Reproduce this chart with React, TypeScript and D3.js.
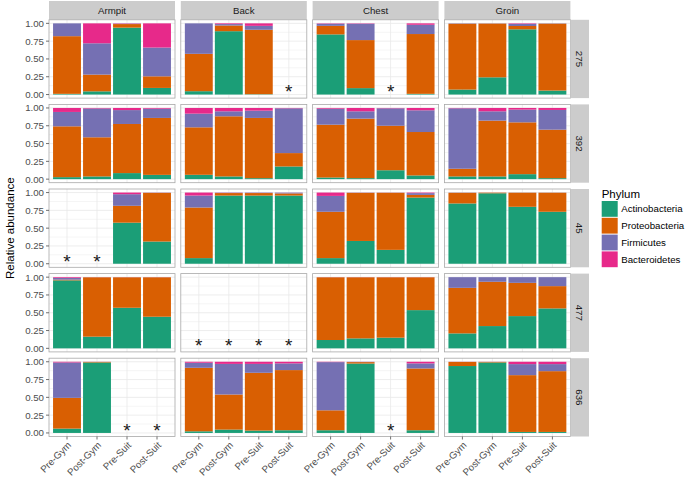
import React from "react";
import * as d3 from "d3";

const sites = ["Armpit", "Back", "Chest", "Groin"];
const subjects = ["275", "392", "45", "477", "636"];
const samples = ["Pre-Gym", "Post-Gym", "Pre-Suit", "Post-Suit"];
const phyla = ["Actinobacteria", "Proteobacteria", "Firmicutes", "Bacteroidetes"];
const phylumColors = ["#1B9E77", "#D95F02", "#7570B3", "#E7298A"];
const yTicks = [0, 0.25, 0.5, 0.75, 1];
const yTickLabels = ["0.00", "0.25", "0.50", "0.75", "1.00"];

// rows = subjects; 16 values per row = 4 sites x 4 samples; null = missing sample
const actinobacteria = [
  [0.01, 0.045, 0.94, 0.093, 0.047, 0.89, 0.005, null, 0.845, 0.09, null, 0.01, 0.07, 0.242, 0.916, 0.056],
  [0.028, 0.038, 0.085, 0.06, 0.061, 0.038, 0.014, 0.178, 0.023, 0.014, 0.125, 0.052, 0.038, 0.038, 0.07, 0.014],
  [null, null, 0.577, 0.312, 0.079, 0.958, 0.958, 0.958, 0.079, 0.32, 0.195, 0.93, 0.847, 0.99, 0.8, 0.73],
  [0.955, 0.164, 0.57, 0.444, null, null, null, null, 0.117, 0.14, 0.15, 0.537, 0.21, 0.313, 0.453, 0.561],
  [0.061, 0.99, null, null, 0.023, 0.047, 0.033, 0.038, 0.038, 0.975, null, 0.038, 0.94, 0.99, 0.014, 0.014],
];
const proteobacteria = [
  [0.81, 0.235, 0.05, 0.163, 0.525, 0.08, 0.905, null, 0.12, 0.675, null, 0.84, 0.925, 0.755, 0.047, 0.94],
  [0.714, 0.55, 0.69, 0.8, 0.667, 0.845, 0.846, 0.188, 0.742, 0.836, 0.625, 0.61, 0.108, 0.784, 0.728, 0.681],
  [null, null, 0.237, 0.684, 0.711, 0.035, 0.035, 0.03, 0.651, 0.676, 0.802, 0.037, 0.15, 0.009, 0.198, 0.268],
  [0.01, 0.834, 0.428, 0.554, null, null, null, null, 0.881, 0.858, 0.848, 0.461, 0.64, 0.622, 0.467, 0.313],
  [0.432, 0.008, null, null, 0.892, 0.493, 0.812, 0.845, 0.28, 0.02, null, 0.868, 0.058, 0.008, 0.798, 0.854],
];
const firmicutes = [
  [0.18, 0.44, 0.005, 0.404, 0.428, 0.02, 0.055, null, 0.03, 0.23, null, 0.13, 0.005, 0.003, 0.03, 0.004],
  [0.202, 0.405, 0.195, 0.13, 0.192, 0.07, 0.102, 0.629, 0.225, 0.103, 0.245, 0.305, 0.849, 0.131, 0.179, 0.277],
  [null, null, 0.163, 0.003, 0.168, 0.005, 0.006, 0.011, 0.223, 0.003, 0.002, 0.025, 0.003, 0.001, 0.002, 0.002],
  [0.025, 0.001, 0.001, 0.001, null, null, null, null, 0.001, 0.001, 0.001, 0.001, 0.15, 0.065, 0.08, 0.126],
  [0.497, 0.001, null, null, 0.071, 0.43, 0.125, 0.094, 0.677, 0.004, null, 0.071, 0.001, 0.001, 0.155, 0.099],
];
const bacteroidetes = [
  [0, 0.28, 0.005, 0.34, 0, 0.01, 0.035, null, 0.005, 0.005, null, 0.02, 0, 0, 0.007, 0],
  [0.056, 0.007, 0.03, 0.01, 0.08, 0.047, 0.038, 0.005, 0.01, 0.047, 0.005, 0.033, 0.005, 0.047, 0.023, 0.028],
  [null, null, 0.023, 0.001, 0.042, 0.002, 0.001, 0.001, 0.047, 0.001, 0.001, 0.008, 0, 0, 0, 0],
  [0.01, 0.001, 0.001, 0.001, null, null, null, null, 0.001, 0.001, 0.001, 0.001, 0, 0, 0, 0],
  [0.01, 0.001, null, null, 0.014, 0.03, 0.03, 0.023, 0.005, 0.001, null, 0.023, 0.001, 0.001, 0.033, 0.033],
];
const series = [actinobacteria, proteobacteria, firmicutes, bacteroidetes];

const W = 685;
const H = 479;
const panelX0 = 49;
const panelW = 126;
const panelPitchX = 131.8;
const panelY0 = 19.8;
const panelH = 78.3;
const panelPitchY = 84.6;
const FONT = "'Liberation Sans', Arial, Helvetica, sans-serif";

export default function App() {
  const bottom = panelY0 + (subjects.length - 1) * panelPitchY + panelH;
  const stripR0 = panelX0 + 3 * panelPitchX + panelW;

  const panels: React.ReactNode[] = [];
  subjects.forEach((subj, r) => {
    const top = panelY0 + r * panelPitchY;
    const y = d3.scaleLinear().domain([-0.05, 1.05]).range([top + panelH, top]);
    sites.forEach((site, c) => {
      const left = panelX0 + c * panelPitchX;
      const x = d3.scaleLinear().domain([0.4, 4.6]).range([left, left + panelW]);
      const bw = x(0.93) - x(0);
      const rows = samples.map((s, i) => {
        const o: any = { sample: s, idx: i + 1, missing: series[0][r][c * 4 + i] == null };
        phyla.forEach((p, k) => (o[p] = series[k][r][c * 4 + i] ?? 0));
        return o;
      });
      const stacked = d3.stack().keys(phyla)(rows as any);
      panels.push(
        <g key={`p-${r}-${c}`}>
          <rect x={left} y={top} width={panelW} height={panelH} fill="#fff" />
          {[0.125, 0.375, 0.625, 0.875].map((v) => (
            <line key={`mn${v}`} x1={left} x2={left + panelW} y1={y(v)} y2={y(v)} stroke="#f3f3f3" strokeWidth={0.8} />
          ))}
          {yTicks.map((v) => (
            <line key={`mj${v}`} x1={left} x2={left + panelW} y1={y(v)} y2={y(v)} stroke="#e8e8e8" strokeWidth={0.8} />
          ))}
          {samples.map((s, i) => (
            <line key={`vx${s}`} x1={x(i + 1)} x2={x(i + 1)} y1={top} y2={top + panelH} stroke="#e8e8e8" strokeWidth={0.8} />
          ))}
          {stacked.map((layer, k) => (
            <g key={`l${k}`} fill={phylumColors[k]}>
              {layer.map((d: any, i: number) =>
                rows[i].missing || d[1] - d[0] <= 0 ? null : (
                  <rect key={i} x={x(i + 1) - bw / 2} width={bw} y={y(d[1])} height={y(d[0]) - y(d[1])} />
                )
              )}
            </g>
          ))}
          {rows.map((d, i) =>
            d.missing ? (
              <text key={`a${i}`} x={x(i + 1)} y={y(0.1) + 11} textAnchor="middle" fontSize={19} fontFamily={FONT} fill="#1a1a1a">
                *
              </text>
            ) : null
          )}
          <rect x={left} y={top} width={panelW} height={panelH} fill="none" stroke="#a8a8a8" strokeWidth={0.8} />
          {c === 0 &&
            yTicks.map((v, i) => (
              <g key={`yt${v}`}>
                <line x1={left - 3} x2={left} y1={y(v)} y2={y(v)} stroke="#4d4d4d" strokeWidth={0.8} />
                <text x={left - 5} y={y(v)} dy="0.35em" textAnchor="end" fontSize={9.7} fontFamily={FONT} fill="#4d4d4d">
                  {yTickLabels[i]}
                </text>
              </g>
            ))}
          {r === subjects.length - 1 &&
            samples.map((s, i) => (
              <g key={`xt${s}`}>
                <line x1={x(i + 1)} x2={x(i + 1)} y1={bottom} y2={bottom + 3} stroke="#4d4d4d" strokeWidth={0.8} />
                <text
                  transform={`translate(${x(i + 1)},${bottom + 4.5}) rotate(-45)`}
                  dy="0.7em"
                  textAnchor="end"
                  fontSize={9.7}
                  fontFamily={FONT}
                  fill="#4d4d4d"
                >
                  {s}
                </text>
              </g>
            ))}
        </g>
      );
    });
    // right strip
    panels.push(
      <g key={`rs-${r}`}>
        <rect x={stripR0} y={top} width={18.6} height={panelH} fill="#cccccc" />
        <text
          transform={`translate(${stripR0 + 9.3},${top + panelH / 2}) rotate(90)`}
          dy="0.35em"
          textAnchor="middle"
          fontSize={9.7}
          fontFamily={FONT}
          fill="#1a1a1a"
        >
          {subj}
        </text>
      </g>
    );
  });

  const topStrips = sites.map((s, c) => {
    const left = panelX0 + c * panelPitchX;
    return (
      <g key={`ts-${s}`}>
        <rect x={left} y={1} width={panelW} height={panelY0 - 1} fill="#cccccc" />
        <text x={left + panelW / 2} y={(1 + panelY0) / 2} dy="0.35em" textAnchor="middle" fontSize={9.7} fontFamily={FONT} fill="#1a1a1a">
          {s}
        </text>
      </g>
    );
  });

  const legX = 601.7;
  const legY = 201;
  const keyPitch = 16.8;

  return (
    <svg width={W} height={H} style={{ position: "absolute", left: 0, top: 0, background: "#fff" }}>
      <rect x={0} y={0} width={W} height={H} fill="#fff" />
      {topStrips}
      {panels}
      <text
        transform={`translate(10,${(panelY0 + bottom) / 2}) rotate(-90)`}
        dy="0.35em"
        textAnchor="middle"
        fontSize={11.5}
        fontFamily={FONT}
        fill="#000"
      >
        Relative abundance
      </text>
      <text x={legX} y={193.5} dy="0.35em" fontSize={11.5} fontFamily={FONT} fill="#000">
        Phylum
      </text>
      {phyla.map((p, k) => (
        <g key={`lg${p}`}>
          <rect x={legX} y={legY + k * keyPitch} width={16} height={keyPitch - 1} fill={phylumColors[k]} />
          <text x={legX + 19.5} y={legY + k * keyPitch + (keyPitch - 1) / 2} dy="0.35em" fontSize={9.7} fontFamily={FONT} fill="#000">
            {p}
          </text>
        </g>
      ))}
    </svg>
  );
}
